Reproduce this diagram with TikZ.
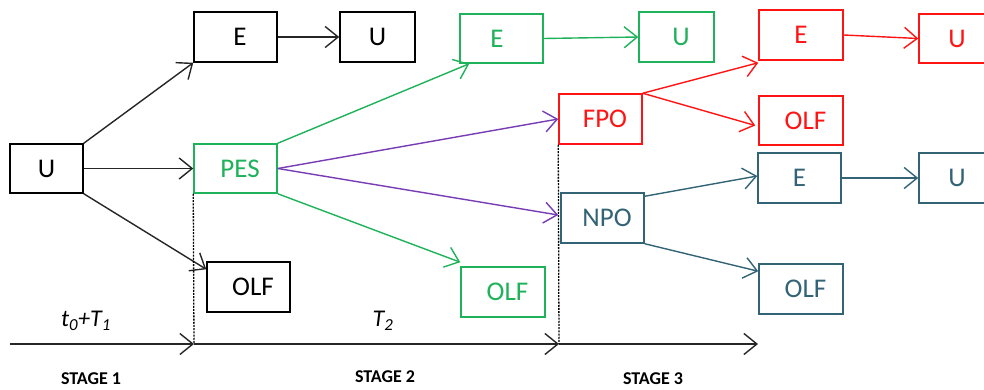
\documentclass[tikz,border=0pt]{standalone}
\usepackage{fontspec}
\setmainfont{Carlito}
\usetikzlibrary{arrows.meta,calc}
\definecolor{cgreen}{RGB}{30,178,90}
\definecolor{cred}{RGB}{255,20,20}
\definecolor{cpurple}{RGB}{120,60,180}
\definecolor{cteal}{RGB}{50,100,118}
\tikzset{
  box/.style={draw=#1,text=#1,line width=1.5pt,rectangle,inner sep=0pt,minimum height=50pt,minimum width=83pt,font=\fontsize{27}{29}\selectfont},
  conn/.style={draw=#1,line width=1.4pt,-{Straight Barb[length=13pt,width=21pt,line width=1.4pt]}},
  dotline/.style={dash pattern=on 2pt off 1.2pt,line width=1.3pt,black},
  stagelab/.style={font=\fontsize{18}{20}\selectfont\bfseries},
  axislab/.style={font=\fontsize{24}{26}\selectfont\itshape}
}
\newcommand{\sh}{\hspace*{9pt}}
\begin{document}
\begin{tikzpicture}[x=1pt,y=-1pt]
\clip (0,0) rectangle (984,390);
\fill[white] (0,0) rectangle (984,390);
% nodes
\node[box=black,minimum width=73pt,minimum height=49pt] (uL) at (46.5,168.5) {U};
\node[box=black] (eB) at (235.5,37) {\sh E};
\node[box=black,minimum width=75pt] (uB) at (377.5,37) {U};
\node[box=cgreen,minimum height=49pt] (pes) at (235.5,168.5) {\sh PES};
\node[box=black] (olfB) at (248.5,287) {\sh OLF};
\node[box=cgreen,minimum height=49pt] (eG) at (501.5,38.5) {E\sh};
\node[box=cgreen,minimum width=75pt] (uG) at (676.5,37) {\sh U};
\node[box=cgreen,minimum width=84pt] (olfG) at (503,292) {\sh OLF};
\node[box=cred] (fpo) at (600.5,119) {\sh FPO};
\node[box=cred,minimum width=84pt] (eR) at (801,35) {E};
\node[box=cred,minimum width=84pt,minimum height=49pt] (olfR) at (801,120.5) {\sh OLF};
\node[box=cred,minimum width=76pt,minimum height=49pt] (uR) at (957,38.5) {\sh U\sh};
\node[box=cteal] (eT) at (799.5,178) {E};
\node[box=cteal,minimum width=76pt] (uT) at (957,178) {\sh U\sh};
\node[box=cteal] (npo) at (602.5,218) {\sh NPO};
\node[box=cteal,minimum width=84pt] (olfT) at (801,289) {\sh OLF};
% stage 1 connectors
\draw[conn=black!85] (uL.north east) -- (eB.south west);
\draw[conn=black!85] (uL.east) -- (pes.west);
\draw[conn=black!85] (uL.south east) -- ($(olfB.north west)+(0,8)$);
\draw[conn=black!85] (eB.east) -- (uB.west);
% stage 2
\draw[conn=cgreen] (pes.north east) -- ($(eG.south west)+(10,0)$);
\draw[conn=cgreen] (pes.south east) -- ($(olfG.north west)+(0,-4)$);
\draw[conn=cpurple] (pes.east) -- (fpo.west);
\draw[conn=cpurple] (pes.east) -- ($(npo.west)+(-2,-3)$);
\draw[conn=cgreen] (eG.east) -- (uG.west);
% stage 3
\draw[conn=cred] (fpo.north east) -- ($(eR.south west)+(0,2)$);
\draw[conn=cred] (fpo.north east) -- ($(olfR.west)+(-3,5)$);
\draw[conn=cred] (eR.east) -- (uR.west);
\draw[conn=cteal] ($(npo.north east)+(0,4)$) -- ($(eT.west)+(0,-2)$);
\draw[conn=cteal] (npo.south east) -- ($(olfT.north west)+(0,8)$);
\draw[conn=cteal] (eT.east) -- (uT.west);
% time axis
\coordinate (a0) at (10,344);
\coordinate (a1) at (194,344);
\coordinate (a2) at (559,344);
\coordinate (a3) at (758,344);
\draw[conn=black!85] (a0) -- (a1);
\draw[conn=black!85] (a1) -- (a2);
\draw[conn=black!85] (a2) -- (a3);
\draw[dotline] (pes.south west) -- (a1);
\draw[dotline] (fpo.south west) -- (a2);
% labels
\node[axislab] (l1) at (86,321) {t\textsubscript{0}+T\textsubscript{1}};
\node[axislab] (l2) at (383,321) {T\textsubscript{2}};
\node[stagelab] (s1) at (91,379) {STAGE 1};
\node[stagelab] (s2) at (385,377) {STAGE 2};
\node[stagelab] (s3) at (653,379) {STAGE 3};
\end{tikzpicture}
\end{document}
